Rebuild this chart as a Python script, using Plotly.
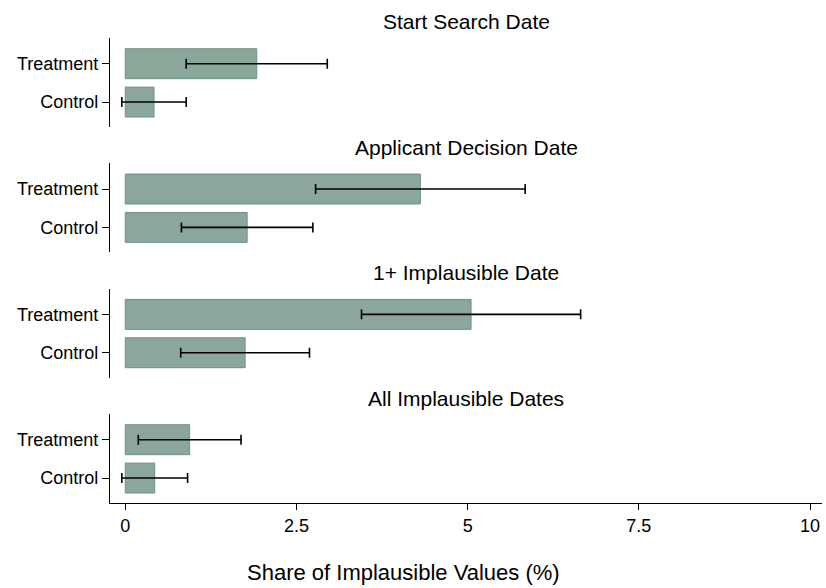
import plotly.graph_objects as go

panels = ["Start Search Date", "Applicant Decision Date", "1+ Implausible Date", "All Implausible Dates"]
groups = ["Control", "Treatment"]
treatment = [1.92, 4.31, 5.05, 0.94]
treatment_err = [1.03, 1.53, 1.60, 0.75]
control = [0.42, 1.78, 1.75, 0.43]
control_err = [0.47, 0.96, 0.94, 0.48]
x_ticks = [0, 2.5, 5, 7.5, 10]
x_tick_labels = ["0", "2.5", "5", "7.5", "10"]

FONT = "Liberation Sans, Arial, sans-serif"
BAR_FILL = "#8BA69B"
BAR_LINE = "#6F9181"

W, H = 826, 588
ML, MR, MT, MB = 110, 4, 38, 85
plot_h = H - MT - MB
plot_w = W - ML - MR
panel_h = 89
step = (plot_h - panel_h) / 3

fig = go.Figure()
layout = dict()
for i, name in enumerate(panels):
    yname = "y" if i == 0 else f"y{i+1}"
    ykey = "yaxis" if i == 0 else f"yaxis{i+1}"
    top_px = i * step
    top = 1 - top_px / plot_h
    bottom = 1 - (top_px + panel_h) / plot_h
    fig.add_trace(go.Bar(
        x=[control[i], treatment[i]],
        y=groups,
        orientation="h",
        width=0.78,
        marker=dict(color=BAR_FILL, line=dict(color=BAR_LINE, width=1)),
        error_x=dict(type="data", array=[control_err[i], treatment_err[i]],
                     color="black", thickness=1.6, width=5),
        xaxis="x", yaxis=yname, showlegend=False,
    ))
    layout[ykey] = dict(
        domain=[max(bottom, 0), min(top, 1)],
        type="category",
        categoryorder="array", categoryarray=groups,
        range=[-0.65, 1.67],
        showline=True, linecolor="black", linewidth=1.3,
        ticks="outside", ticklen=7, tickcolor="black", tickwidth=1.2,
        tickfont=dict(family=FONT, size=18, color="black"),
        showgrid=False, zeroline=False,
        anchor="x", automargin=False,
    )
    fig.add_annotation(
        text=name, xref="paper", yref="paper",
        x=0.5, y=top + 16 / plot_h, xanchor="center", yanchor="middle",
        showarrow=False, font=dict(family=FONT, size=21, color="black"),
    )

layout["xaxis"] = dict(
    domain=[0, 1], anchor="y4",
    range=[-0.223, 10.175],
    tickvals=x_ticks, ticktext=x_tick_labels,
    showline=True, linecolor="black", linewidth=1.3,
    ticks="outside", ticklen=6, tickcolor="black", tickwidth=1.2,
    tickfont=dict(family=FONT, size=18, color="black"),
    showgrid=False, zeroline=False, automargin=False,
)

fig.add_annotation(
    text="Share of Implausible Values (%)", xref="paper", yref="paper",
    x=(403 - ML) / plot_w, y=-(572 - (H - MB)) / plot_h,
    xanchor="center", yanchor="middle", showarrow=False,
    font=dict(family=FONT, size=22, color="black"),
)

fig.update_layout(
    **layout,
    width=W, height=H,
    margin=dict(l=ML, r=MR, t=MT, b=MB, autoexpand=False),
    plot_bgcolor="white", paper_bgcolor="white",
    bargap=0.2,
)

# remove the default page margin so the figure fills the 826x588 window
fig.write_html(
    "out.html",
    config={"displayModeBar": False},
    post_script="document.body.style.margin='0';document.body.style.overflow='hidden';",
)
